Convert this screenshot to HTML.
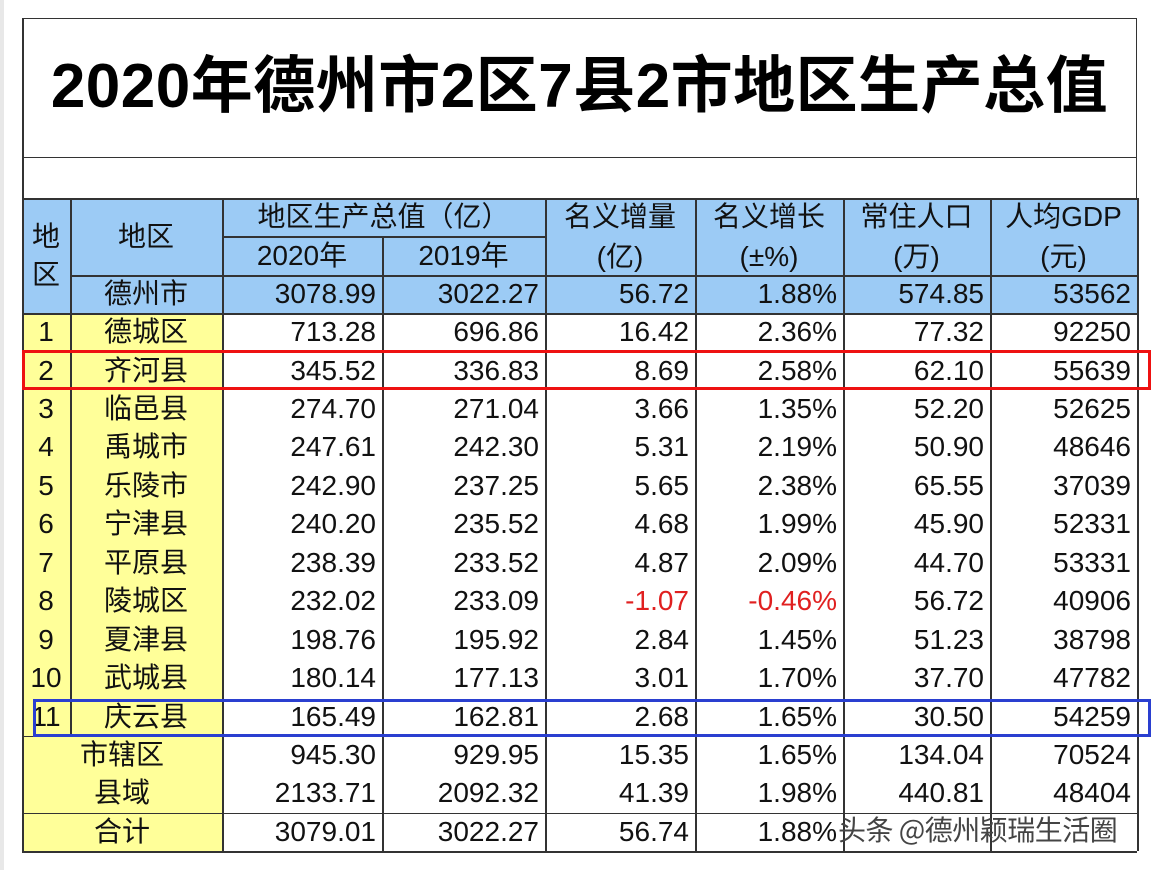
<!DOCTYPE html>
<html><head><meta charset="utf-8">
<style>
body{margin:0;width:1160px;height:870px;background:#fff;position:relative;overflow:hidden;font-family:"Liberation Sans","Noto Sans CJK SC",sans-serif;}
.c{position:absolute;box-sizing:border-box;display:flex;align-items:center;font-size:28px;color:#111;white-space:nowrap;line-height:1;}
.r{justify-content:flex-end;padding-right:6px;}
.m{justify-content:center;}
.hl{position:absolute;background:#333;height:1.5px;}
.vl{position:absolute;background:#333;width:1.5px;}
</style></head><body>
<div style="position:absolute;left:0;top:0;width:4px;height:870px;background:#e8e8e8"></div>
<div style="position:absolute;left:22px;top:18px;width:1115px;height:140px;border:1.5px solid #333;box-sizing:border-box"></div>
<div style="position:absolute;left:22px;top:56px;width:1115px;text-align:center;font-family:'Liberation Sans','Noto Sans CJK SC',sans-serif;font-weight:bold;font-size:62px;line-height:1;color:#000;letter-spacing:0.5px">2020年德州市2区7县2市地区生产总值</div>
<div style="position:absolute;left:22px;top:157px;width:1115px;height:42px;border:1.5px solid #333;border-top:none;box-sizing:border-box"></div>
<div id="tbl"></div>
<div style="position:absolute;left:838px;top:815px;font-size:28px;color:#444;line-height:1;font-family:'Noto Sans CJK SC',sans-serif;letter-spacing:-0.5px">头条 @德州颖瑞生活圈</div>
<div style="position:absolute;left:22px;top:350px;width:1129px;height:40px;border:3px solid #e11;box-sizing:border-box"></div>
<div style="position:absolute;left:33px;top:699px;width:1118px;height:38px;border:3px solid #2a3fd0;box-sizing:border-box"></div>
<script>
const names=["德城区","齐河县","临邑县","禹城市","乐陵市","宁津县","平原县","陵城区","夏津县","武城县","庆云县","市辖区","县域","合计"];
const gdp2020=["713.28","345.52","274.70","247.61","242.90","240.20","238.39","232.02","198.76","180.14","165.49","945.30","2133.71","3079.01"];
const gdp2019=["696.86","336.83","271.04","242.30","237.25","235.52","233.52","233.09","195.92","177.13","162.81","929.95","2092.32","3022.27"];
const incr=["16.42","8.69","3.66","5.31","5.65","4.68","4.87","-1.07","2.84","3.01","2.68","15.35","41.39","56.74"];
const growth=["2.36%","2.58%","1.35%","2.19%","2.38%","1.99%","2.09%","-0.46%","1.45%","1.70%","1.65%","1.65%","1.98%","1.88%"];
const pop=["77.32","62.10","52.20","50.90","65.55","45.90","44.70","56.72","51.23","37.70","30.50","134.04","440.81",""];
const perCap=["92250","55639","52625","48646","37039","52331","53331","40906","38798","47782","54259","70524","48404",""];
const total=["德州市","3078.99","3022.27","56.72","1.88%","574.85","53562"];
const X=[22,70,222,382,545,695,843,990,1137];
const Y0=313,RH=38.43;
const T=document.getElementById('tbl');
function cell(x,y,w,h,txt,cls,bg,name,color){
  const d=document.createElement('div');
  d.className='c '+cls;
  d.style.left=x+'px';d.style.top=y+'px';d.style.width=w+'px';d.style.height=h+'px';
  if(bg)d.style.background=bg;
  if(color)d.style.color=color;
  d.innerHTML=txt;
  
  
  T.appendChild(d);return d;
}
const B='#9ccbf5',Yl='#ffff99';
cell(X[0],198,X[1]-X[0],115,'<div style="text-align:center;line-height:1.35">地<br>区</div>','m',B,'header-index');
cell(X[1],198,X[2]-X[1],77,'地区','m',B,'header-region');
cell(X[2],198,X[4]-X[2],38,'地区生产总值（亿）','m',B,'header-gdp');
cell(X[2],236,X[3]-X[2],39,'2020年','m',B,'header-2020');
cell(X[3],236,X[4]-X[3],39,'2019年','m',B,'header-2019');
const hd=[['名义增量','(亿)'],['名义增长','(±%)'],['常住人口','(万)'],['人均GDP','(元)']];
for(let i=0;i<4;i++){
  cell(X[4+i],198,X[5+i]-X[4+i],77,'<div style="text-align:center;line-height:1.4">'+hd[i][0]+'<br>'+hd[i][1]+'</div>','m',B,'header-col-'+(i+1));
}
cell(X[1],275,X[2]-X[1],38,total[0],'m',B,'total-region');
for(let j=1;j<7;j++) cell(X[j+1],275,X[j+2]-X[j+1],38,total[j],'r',B,'total-value-'+j);
for(let i=0;i<14;i++){
  const y=Y0+i*RH;
  if(i<11){
    cell(X[0],y,X[1]-X[0],RH,String(i+1),'m',Yl,'row-index-'+(i+1));
    cell(X[1],y,X[2]-X[1],RH,names[i],'m',Yl,'row-name-'+(i+1));
  } else {
    cell(X[0],y,X[2]-X[0],RH,names[i],'m',Yl,'row-name-'+(i+1));
  }
  const vals=[gdp2020[i],gdp2019[i],incr[i],growth[i],pop[i],perCap[i]];
  for(let j=0;j<6;j++){
    const neg=vals[j].charAt(0)==='-';
    cell(X[j+2],y,X[j+3]-X[j+2],RH,vals[j],'r',null,'row-'+(i+1)+'-val-'+j,neg?'#e02020':null);
  }
}
function line(cls,x,y,len,name){
  const d=document.createElement('div');d.className=cls;
  d.style.left=x+'px';d.style.top=y+'px';
  if(cls==='hl')d.style.width=len+'px';else d.style.height=len+'px';
  
  
  T.appendChild(d);
}
const yb=Y0+14*RH;
line('hl',X[0],198,X[8]-X[0],'grid-top');
line('hl',X[2],236,X[4]-X[2],'grid-sub');
line('hl',X[1],275,X[8]-X[1],'grid-header-bottom');
line('hl',X[0],313,X[8]-X[0],'grid-total-bottom');
line('hl',X[0],Y0+11*RH,X[2]-X[0],'grid-row11');
line('hl',X[0],Y0+13*RH,X[8]-X[0],'grid-sum');
line('hl',X[0],yb,X[8]-X[0],'grid-bottom');
for(let k=0;k<X.length;k++){
  if(k===1){line('vl',X[k],198,Y0+11*RH-198,'grid-v1');}
  else if(k===3){line('vl',X[k],236,yb-236,'grid-v3');}
  else line('vl',X[k],198,yb-198,'grid-v'+k);
}
line('vl',22,18,180,'frame-left');
</script>
</body></html>
